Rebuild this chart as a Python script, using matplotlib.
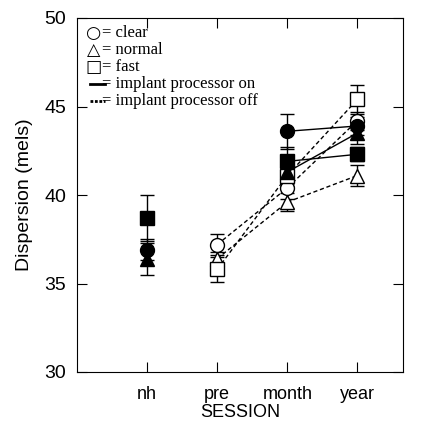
import numpy as np
import matplotlib.pyplot as plt

plt.rcParams['font.family'] = ['Liberation Sans', 'DejaVu Sans']

## DATOS

sessions = ['nh', 'pre', 'month', 'year']
nan = np.nan

# implant processor on (relleno)
on_clear = [36.9, nan, 43.6, 43.9]
on_clear_err = [0.6, nan, 1.0, 0.5]
on_normal = [36.4, nan, 41.3, 43.5]
on_normal_err = [0.9, nan, 0.7, 0.6]
on_fast = [38.7, nan, 41.9, 42.3]
on_fast_err = [1.3, nan, 0.8, 0.4]

# implant processor off (vacio)
off_clear = [nan, 37.2, 40.4, 44.2]
off_clear_err = [nan, 0.6, 0.6, 0.5]
off_normal = [nan, 36.4, 39.6, 41.1]
off_normal_err = [nan, 0.4, 0.5, 0.6]
off_fast = [nan, 35.8, 41.1, 45.4]
off_fast_err = [nan, 0.7, 0.6, 0.8]

legend_rows = ['= clear', '= normal', '= fast',
               '= implant processor on', '= implant processor off']

##################

x = np.arange(1, len(sessions) + 1)

fig = plt.figure(figsize=(4.24, 4.25), dpi=100)
ax = fig.add_axes([77/424, 1 - 372/425, 326/424, 354/425])

series = [
    (off_clear, off_clear_err, 'o', 'white', '--'),
    (off_normal, off_normal_err, '^', 'white', '--'),
    (off_fast, off_fast_err, 's', 'white', '--'),
    (on_clear, on_clear_err, 'o', 'black', '-'),
    (on_normal, on_normal_err, '^', 'black', '-'),
    (on_fast, on_fast_err, 's', 'black', '-'),
]

for y, e, m, fc, ls in series:
    ax.errorbar(x, y, yerr=e, fmt='none', ecolor='black', elinewidth=1,
                capsize=5, capthick=1, zorder=2)
    line, = ax.plot(x, y, linestyle=ls, color='black', linewidth=1,
                    marker=m, markersize=10, markerfacecolor=fc,
                    markeredgecolor='black', markeredgewidth=1, zorder=3)
    if ls == '--':
        line.set_dashes((3, 2))

ax.set_xlim(0, 4.65)
ax.set_ylim(30, 50)
ax.set_xticks(x)
ax.set_xticklabels(sessions)
ax.set_yticks([30, 35, 40, 45, 50])
ax.tick_params(direction='in', length=7, top=True, right=True,
               labelsize=14, pad=8)
ax.tick_params(axis='x', labelsize=13, pad=10)
ax.set_xlabel('SESSION', fontsize=13, labelpad=1)
ax.set_ylabel('Dispersion (mels)', fontsize=14, labelpad=8)

# leyenda hecha a mano
ys = [0.957, 0.91, 0.862, 0.814, 0.766]
syms = ['\u25cb', '\u25b3', '\u25a1']
for k in range(3):
    ax.text(0.05, ys[k], syms[k], transform=ax.transAxes, fontsize=12.5,
            family='DejaVu Sans', va='center', ha='center')
for k in range(5):
    ax.text(0.077, ys[k], legend_rows[k], transform=ax.transAxes,
            fontsize=12, family='Liberation Serif', va='center')
ax.plot([0.04, 0.085], [ys[3], ys[3]], color='black', linewidth=2,
        transform=ax.transAxes)
ax.plot([0.04, 0.085], [ys[4], ys[4]], color='black', linewidth=2,
        linestyle=(0, (1, 0.6)), transform=ax.transAxes)

plt.savefig('out.png', dpi=100)
